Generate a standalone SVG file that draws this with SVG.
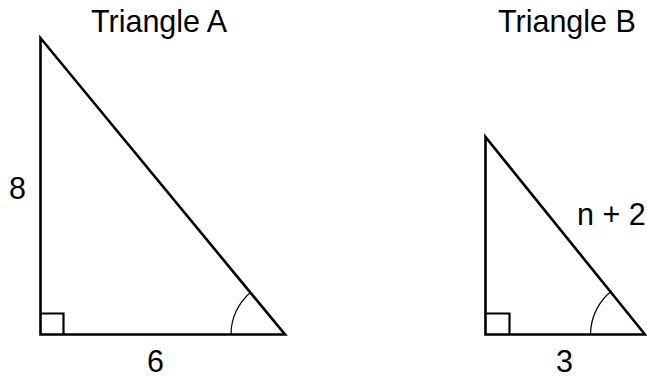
<svg xmlns="http://www.w3.org/2000/svg" width="647" height="377" viewBox="0 0 647 377">
<style>
.tri{fill:none;stroke:#000;stroke-width:2.6;stroke-linejoin:miter;stroke-miterlimit:10}
.sq{fill:none;stroke:#000;stroke-width:2.2}
.arc{fill:none;stroke:#000;stroke-width:1.2}
text{font-family:"Liberation Sans",Arial,sans-serif;font-size:30.5px;fill:#000}
</style>
<rect width="647" height="377" fill="#fff"/>
<g id="triangleA">
<text x="91" y="32">Triangle A</text>
<polygon class="tri" points="40.5,38 40.5,334.5 285,334.5"/>
<polyline class="sq" points="40.5,313.5 63.5,313.5 63.5,334.5"/>
<path class="arc" d="M231,334.5 A55 55 0 0 1 250.5,292.5"/>
<text x="17.5" y="199" text-anchor="middle">8</text>
<text x="155.5" y="372" text-anchor="middle">6</text>
</g>
<g id="triangleB">
<text x="498" y="32">Triangle B</text>
<polygon class="tri" points="485.5,137 485.5,334.5 645,334.5"/>
<polyline class="sq" points="485.5,313.5 509.5,313.5 509.5,334.5"/>
<path class="arc" d="M590.5,334.5 A56 56 0 0 1 611.5,291"/>
<text x="577" y="225">n + 2</text>
<text x="564.5" y="372" text-anchor="middle">3</text>
</g>
</svg>
